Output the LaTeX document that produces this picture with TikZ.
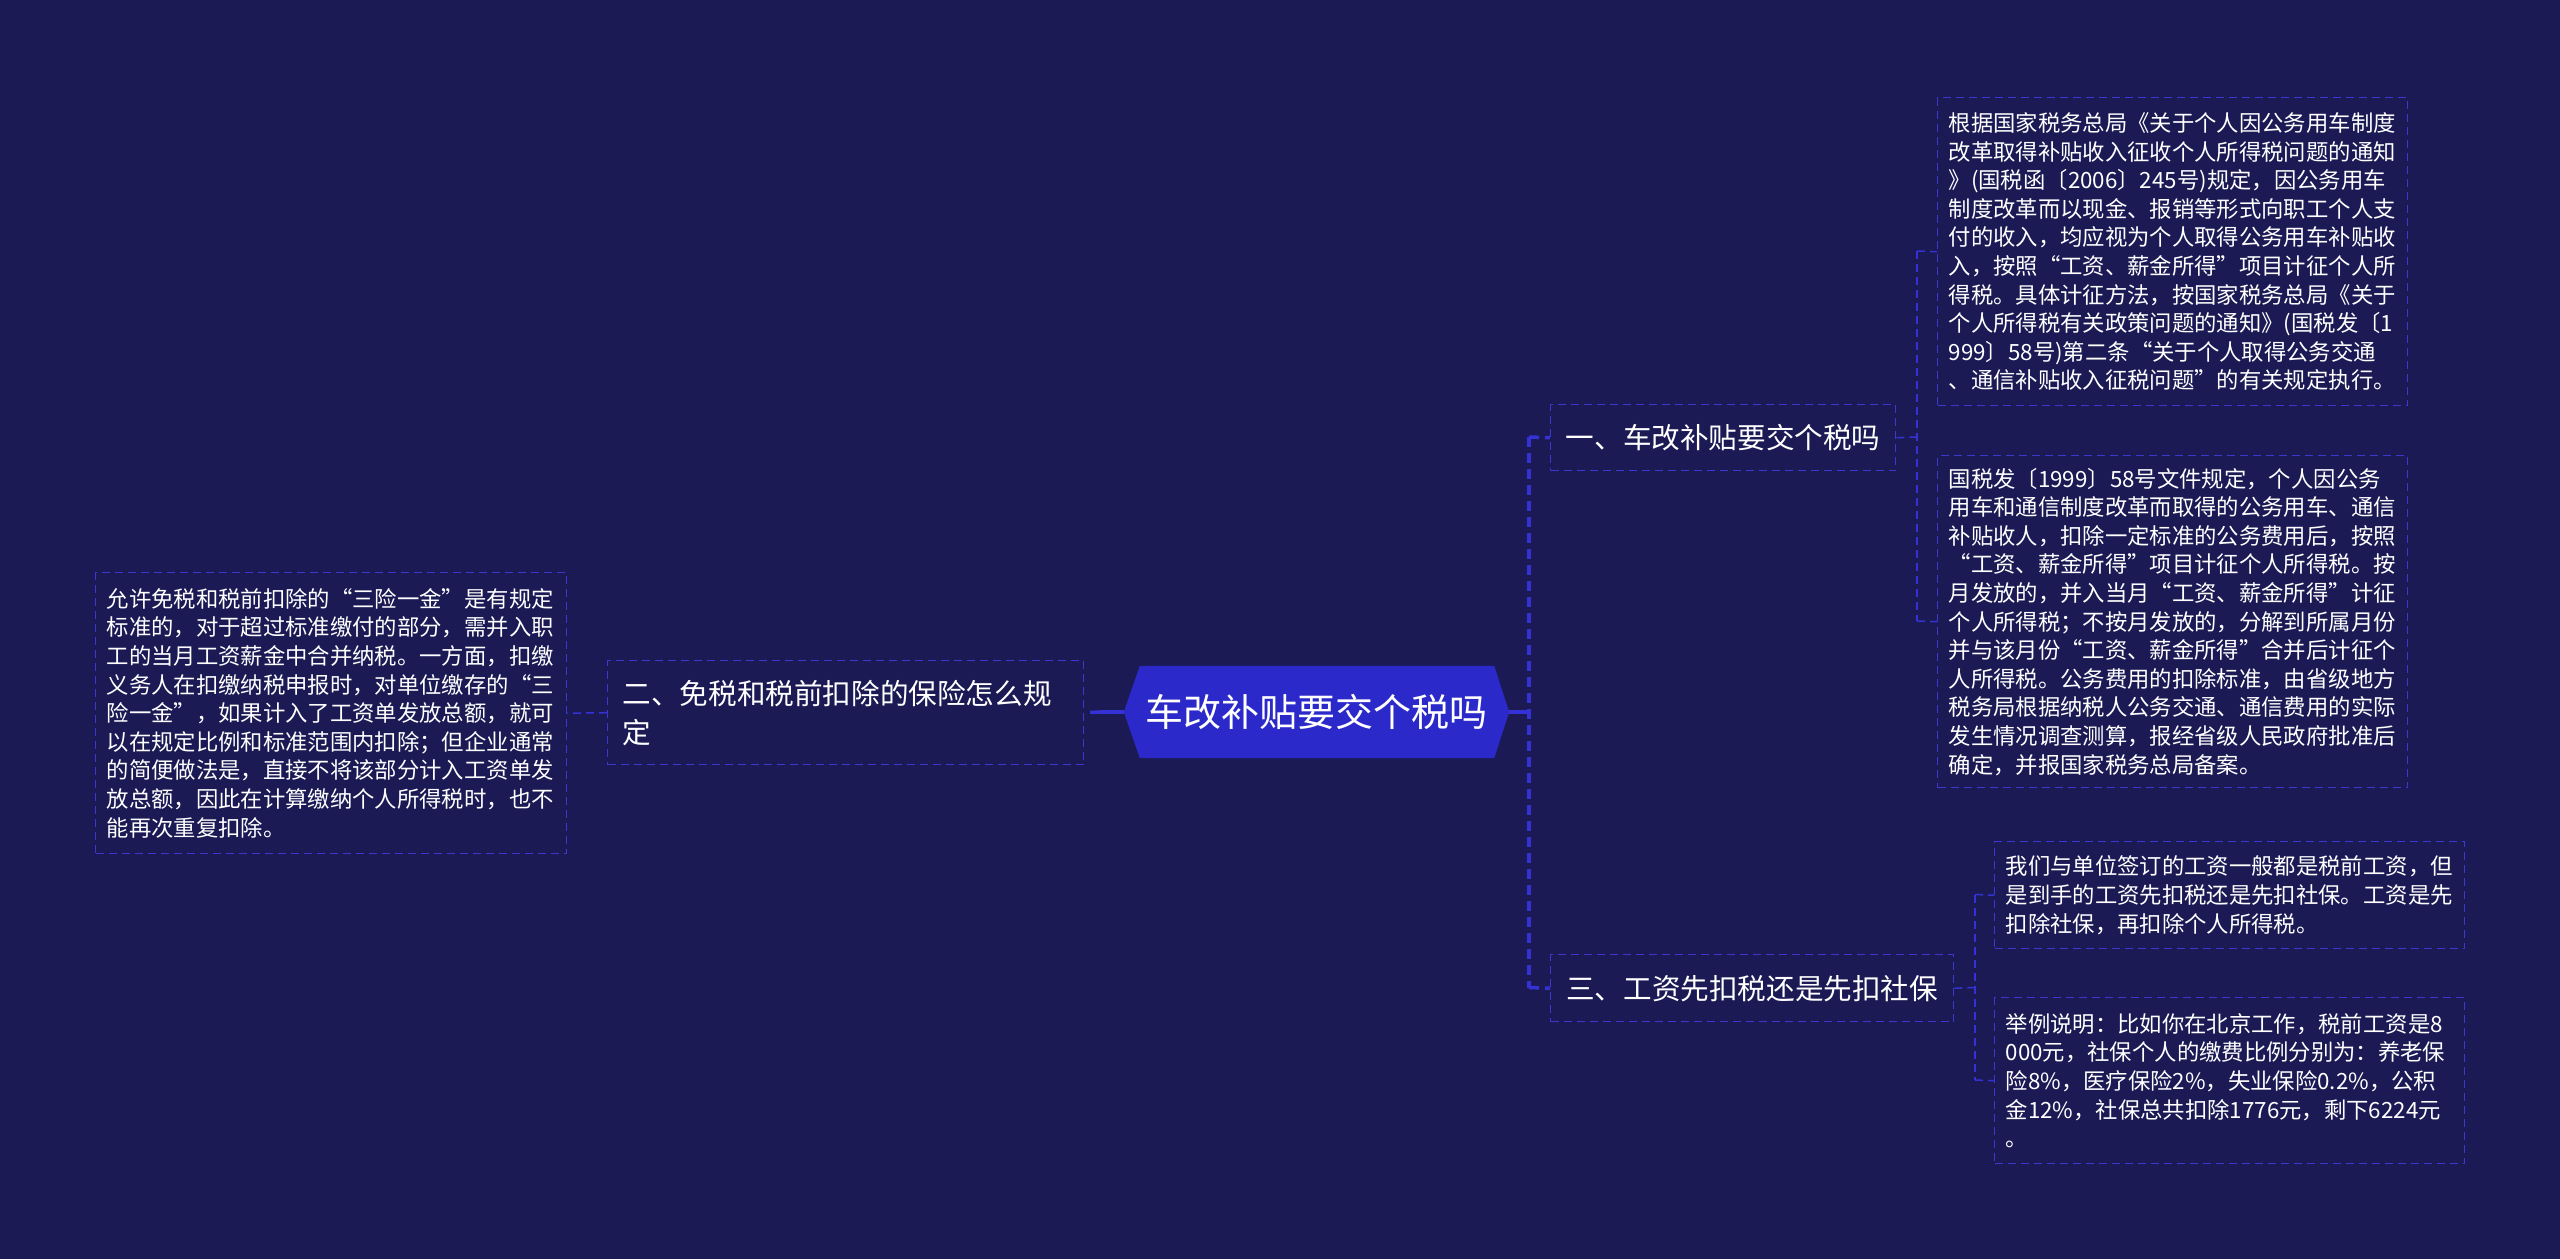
\documentclass[tikz,border=0pt]{standalone}
\usepackage{fontspec}
\setmainfont{Noto Sans CJK SC}
\pgfdeclarelayer{background}
\pgfsetlayers{background,main}
\definecolor{bgc}{RGB}{27,26,85}
\definecolor{centerc}{RGB}{43,41,201}
\definecolor{linec}{RGB}{52,50,212}
\definecolor{boxc}{RGB}{58,56,205}
\begin{document}
\begin{tikzpicture}[x=1pt,y=-1pt,
  leafbox/.style={draw=boxc, line width=1.4pt, dash pattern=on 8pt off 5pt,
    text=white, anchor=north west, align=left, inner xsep=11pt, inner ysep=0pt,
    text width=448pt, font=\fontsize{22.35pt}{28.6pt}\selectfont},
  topicbox/.style={draw=boxc, line width=1.4pt, dash pattern=on 8pt off 5pt,
    text=white, anchor=north west, inner xsep=15pt, inner ysep=0pt,
    font=\fontsize{28.6pt}{39pt}\selectfont},
  thicksolid/.style={draw=linec, line width=3.5pt},
  thickdash/.style={draw=linec, line width=3.5pt, dash pattern=on 10pt off 6pt},
  thindash/.style={draw=linec, line width=1.5pt, dash pattern=on 8pt off 5pt}]

\begin{pgfonlayer}{background}
\fill[bgc] (0,0) rectangle (2560,1259);
\end{pgfonlayer}
\useasboundingbox (0,0) rectangle (2560,1259);

% central node
\node[text=white, inner sep=0pt, minimum width=385pt, minimum height=92pt,
  font=\fontsize{38pt}{44pt}\selectfont] (C) at (1316.5,712) {车改补贴要交个税吗};
\begin{pgfonlayer}{background}
\fill[centerc] (C.west) -- ([xshift=16pt]C.north west) -- ([xshift=-15pt]C.north east)
  -- (C.east) -- ([xshift=-15pt]C.south east) -- ([xshift=16pt]C.south west) -- cycle;
\end{pgfonlayer}

% topic nodes
\node[topicbox, minimum width=345pt, minimum height=66pt] (N1) at (1550,404) {一、车改补贴要交个税吗};
\node[topicbox, minimum width=403pt, minimum height=67pt] (N3) at (1550,954) {三、工资先扣税还是先扣社保};
\node[topicbox, text width=446pt, align=left, minimum height=104pt] (N2) at (607,660)
  {二、免税和税前扣除的保险怎么规\\定};

% leaf nodes
\node[leafbox, minimum height=308pt] (L1) at (1937,97)
  {根据国家税务总局《关于个人因公务用车制度\\
   改革取得补贴收入征收个人所得税问题的通知\\
   》(国税函〔2006〕245号)规定，因公务用车\\
   制度改革而以现金、报销等形式向职工个人支\\
   付的收入，均应视为个人取得公务用车补贴收\\
   入，按照“工资、薪金所得”项目计征个人所\\
   得税。具体计征方法，按国家税务总局《关于\\
   个人所得税有关政策问题的通知》(国税发〔1\\
   999〕58号)第二条“关于个人取得公务交通\\
   、通信补贴收入征税问题”的有关规定执行。};
\node[leafbox, minimum height=332pt] (L2) at (1937,455)
  {国税发〔1999〕58号文件规定，个人因公务\\
   用车和通信制度改革而取得的公务用车、通信\\
   补贴收人，扣除一定标准的公务费用后，按照\\
   “工资、薪金所得”项目计征个人所得税。按\\
   月发放的，并入当月“工资、薪金所得”计征\\
   个人所得税；不按月发放的，分解到所属月份\\
   并与该月份“工资、薪金所得”合并后计征个\\
   人所得税。公务费用的扣除标准，由省级地方\\
   税务局根据纳税人公务交通、通信费用的实际\\
   发生情况调查测算，报经省级人民政府批准后\\
   确定，并报国家税务总局备案。};
\node[leafbox, minimum height=107pt] (L3) at (1994,841)
  {我们与单位签订的工资一般都是税前工资，但\\
   是到手的工资先扣税还是先扣社保。工资是先\\
   扣除社保，再扣除个人所得税。};
\node[leafbox, minimum height=166pt] (L4) at (1994,997)
  {举例说明：比如你在北京工作，税前工资是8\\
   000元，社保个人的缴费比例分别为：养老保\\
   险8\%，医疗保险2\%，失业保险0.2\%，公积\\
   金12\%，社保总共扣除1776元，剩下6224元\\
   。};
\node[leafbox, minimum height=281pt, text width=449pt] (LL) at (95,572)
  {允许免税和税前扣除的“三险一金”是有规定\\
   标准的，对于超过标准缴付的部分，需并入职\\
   工的当月工资薪金中合并纳税。一方面，扣缴\\
   义务人在扣缴纳税申报时，对单位缴存的“三\\
   险一金”，如果计入了工资单发放总额，就可\\
   以在规定比例和标准范围内扣除；但企业通常\\
   的简便做法是，直接不将该部分计入工资单发\\
   放总额，因此在计算缴纳个人所得税时，也不\\
   能再次重复扣除。};

% junction coordinates
\coordinate (rj) at (1529,712);
\coordinate (rt) at (1529,437);
\coordinate (rb) at (1529,987.5);
\coordinate (lj) at (1100,712);
\coordinate (a1) at (1917,437);
\coordinate (a1t) at (1917,251);
\coordinate (a1b) at (1917,621);
\coordinate (a3) at (1975,987.5);
\coordinate (a3t) at (1975,894.5);
\coordinate (a3b) at (1975,1080);

% level-1 connectors
\draw[thicksolid] (C.east) -- (rj);
\draw[thickdash] (rt) -- (rb);
\draw[thickdash] (rt) -- (N1.west);
\draw[thickdash] (rb) -- (N3.west);
\draw[thicksolid] (C.west) -- (lj);
\draw[thickdash] (lj) -- (N2.east);

% level-2 connectors
\draw[thindash] (N1.east) -- (a1);
\draw[thindash] (a1t) -- (a1b);
\draw[thindash] (a1t) -- (L1.west);
\draw[thindash] (a1b) -- (L2.west);
\draw[thindash] (N3.east) -- (a3);
\draw[thindash] (a3t) -- (a3b);
\draw[thindash] (a3t) -- (L3.west);
\draw[thindash] (a3b) -- (L4.west);
\draw[thindash] (N2.west) -- (LL.east);
\end{tikzpicture}
\end{document}
